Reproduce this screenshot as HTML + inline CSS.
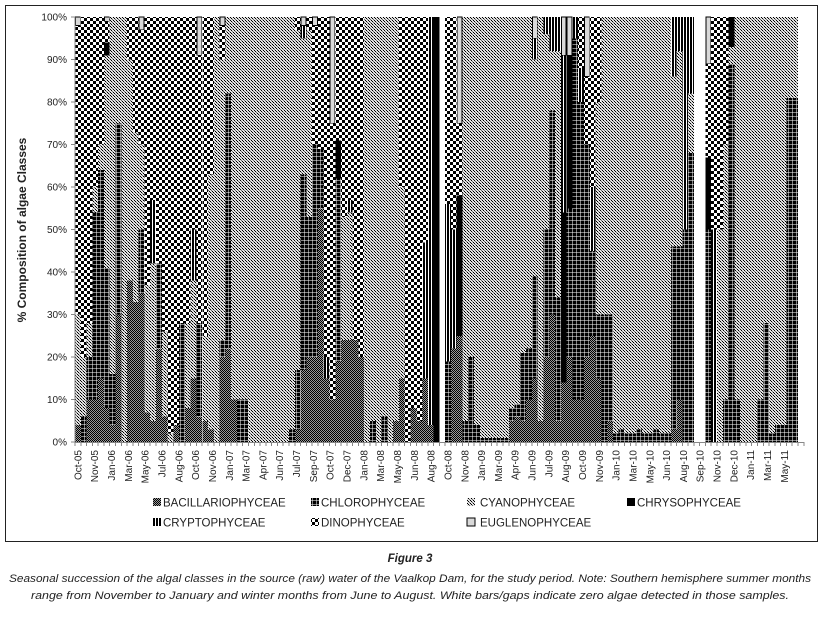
<!DOCTYPE html>
<html><head><meta charset="utf-8"><style>
body{margin:0;background:#fff;width:821px;height:620px;overflow:hidden}
svg{display:block}
text{font-family:"Liberation Sans",sans-serif}
</style></head><body>
<svg id="chart" width="821" height="620" shape-rendering="crispEdges">
<defs>
<pattern id="p-baci" width="2" height="2" patternUnits="userSpaceOnUse"><rect width="2" height="2" fill="#999"/><rect width="1" height="1" fill="#000"/><rect x="1" y="1" width="1" height="1" fill="#000"/></pattern>
<pattern id="p-chloro" width="4" height="4" patternUnits="userSpaceOnUse"><rect width="4" height="4" fill="#000"/><rect width="4" height="0.7" fill="#fff"/><rect width="0.7" height="4" fill="#fff"/></pattern>
<pattern id="p-cyano" width="3" height="3" patternUnits="userSpaceOnUse"><rect width="3" height="3" fill="#e2e2e2"/><rect width="1" height="1" fill="#000"/><rect x="1" y="1" width="1" height="1" fill="#666"/><rect x="2" y="2" width="1" height="1" fill="#000"/></pattern>
<pattern id="p-crypto" width="3" height="3" patternUnits="userSpaceOnUse"><rect width="3" height="3" fill="#fff"/><rect width="2" height="3" fill="#000"/></pattern>
<pattern id="p-dino" width="6" height="6" patternUnits="userSpaceOnUse"><rect width="6" height="6" fill="#fff"/><rect width="3" height="3" fill="#000"/><rect x="3" y="3" width="3" height="3" fill="#000"/></pattern>
</defs>
<rect x="5.5" y="5.5" width="812" height="536" fill="none" stroke="#222" stroke-width="1"/>
<g id="bars"></g>
<g id="axes"></g>
<text x="26" y="230" transform="rotate(-90 26 230)" text-anchor="middle" font-size="12" font-weight="bold" fill="#222">% Composition of algae Classes</text>
<g id="legend"></g>
<text x="410" y="562" text-anchor="middle" font-size="11.5" font-weight="bold" font-style="italic" fill="#222">Figure 3</text>
<text x="410" y="582" text-anchor="middle" font-size="11.3" font-style="italic" fill="#222" textLength="802" lengthAdjust="spacingAndGlyphs">Seasonal succession of the algal classes in the source (raw) water of the Vaalkop Dam, for the study period. Note: Southern hemisphere summer months</text>
<text x="410" y="599" text-anchor="middle" font-size="11.3" font-style="italic" fill="#222" textLength="758" lengthAdjust="spacingAndGlyphs">range from November to January and winter months from June to August. White bars/gaps indicate zero algae detected in those samples.</text>
</svg>
<script>
const baci=[4,0,10,10,15,8,4,30,0,38, 33,35,7,5,22,6,0,4,0,8, 15,6,5,3,0,20,22,10,0,0, 0,0,0,0,0,0,0,0,3,17, 20,20,55,15,10,19,24,24,24,20, 0,0,0,0,0,5,15,0,8,5, 15,4,0,0,0,22,25,0,0,0, 0,0,0,0,0,5,6,5,10,15, 5,20,30,5,14,20,10,10,20,25, 15,0,5,0,0,0,0,0,0,0, 0,0,0,3,10,0,0,0,0,0, 0,0,0,0,0,0,0,0,0,0, 0,0,0,0,0];
const chloro=[0,6,10,44,49,33,12,45,0,0, 0,15,0,0,20,0,0,0,28,0, 0,22,0,0,0,4,60,0,10,10, 0,0,0,0,0,0,0,3,14,46, 33,50,14,0,0,43,0,0,0,0, 0,5,0,6,0,0,0,0,0,0, 0,0,0,0,19,0,0,5,20,4, 1,1,1,1,1,3,3,16,12,24, 0,30,48,29,0,35,85,70,50,20, 15,30,25,2,3,2,2,3,2,2, 3,2,2,43,36,50,68,0,0,50, 0,0,10,89,10,0,0,0,10,28, 2,4,4,81,81];
const cyano=[26,14,8,6,6,50,84,25,100,52, 40,20,30,37,0,20,2,0,0,20, 23,0,20,60,100,66,18,90,90,90, 100,100,100,100,100,100,100,97,80,32, 44,0,0,0,0,0,29,30,0,0, 100,95,100,94,100,95,45,0,0,0, 0,0,0,0,0,0,0,95,80,96, 99,99,99,99,99,92,91,79,78,51, 95,46,14,58,0,0,0,0,0,0, 50,70,70,98,97,98,98,97,98,98, 97,98,98,40,46,0,14,0,0,0, 0,50,60,4,90,100,100,100,90,72, 98,96,96,19,19];
const chryso=[0,0,0,0,0,3,0,0,0,0, 0,0,0,0,0,0,0,0,0,0, 0,0,0,0,0,0,0,0,0,0, 0,0,0,0,0,0,0,0,0,0, 0,0,0,0,0,9,0,0,0,0, 0,0,0,0,0,0,0,0,0,0, 0,0,100,0,0,0,33,0,0,0, 0,0,0,0,0,0,0,0,0,0, 0,0,0,0,40,36,0,0,0,0, 0,0,0,0,0,0,0,0,0,0, 0,0,0,0,0,0,0,0,0,17, 0,0,0,7,0,0,0,0,0,0, 0,0,0,0,0];
const crypto=[0,0,0,0,0,0,0,0,0,0, 0,0,0,15,0,0,0,0,0,0, 12,0,0,0,0,0,0,0,0,0, 0,0,0,0,0,0,0,0,0,3, 0,0,0,5,0,0,0,3,0,0, 0,0,0,0,0,0,0,0,0,0, 32,96,0,0,37,28,0,0,0,0, 0,0,0,0,0,0,0,0,0,5, 0,4,8,8,37,0,5,8,0,15, 0,0,0,0,0,0,0,0,0,0, 0,0,0,14,8,50,18,0,0,0, 50,0,0,0,0,0,0,0,0,0, 0,0,0,0,0];
const dino=[68,80,72,40,30,5,0,0,0,10, 27,27,63,43,58,74,98,96,72,72, 50,63,75,37,0,8,0,0,0,0, 0,0,0,0,0,0,0,0,3,0, 3,28,31,80,65,29,47,43,76,80, 0,0,0,0,0,0,40,100,92,95, 53,0,0,0,44,50,17,0,0,0, 0,0,0,0,0,0,0,0,0,0, 0,0,0,0,0,0,0,12,16,40, 20,0,0,0,0,0,0,0,0,0, 0,0,0,0,0,0,0,0,0,22, 50,50,30,0,0,0,0,0,0,0, 0,0,0,0,0];
const eugl=[2,0,0,0,0,1,0,0,0,0, 0,3,0,0,0,0,0,0,0,0, 0,9,0,0,0,2,0,0,0,0, 0,0,0,0,0,0,0,0,0,2, 0,2,0,0,25,0,0,0,0,0, 0,0,0,0,0,0,0,0,0,0, 0,0,0,0,0,0,25,0,0,0, 0,0,0,0,0,0,0,0,0,5, 0,0,0,0,9,9,0,0,14,0, 0,0,0,0,0,0,0,0,0,0, 0,0,0,0,0,0,0,0,0,11, 0,0,0,0,0,0,0,0,0,0, 0,0,0,0,0];
const seriesNames=["BACILLARIOPHYCEAE","CHLOROPHYCEAE","CYANOPHYCEAE","CHRYSOPHYCEAE","CRYPTOPHYCEAE","DINOPHYCEAE","EUGLENOPHYCEAE"];
const xLabels=["Oct-05","Nov-05","Jan-06","Mar-06","May-06","Jul-06","Aug-06","Oct-06","Nov-06","Jan-07","Mar-07","Apr-07","Jun-07","Jul-07","Sep-07","Oct-07","Dec-07","Jan-08","Mar-08","May-08","Jun-08","Aug-08","Oct-08","Nov-08","Jan-09","Mar-09","Apr-09","Jun-09","Jul-09","Aug-09","Oct-09","Nov-09","Jan-10","Mar-10","May-10","Jun-10","Aug-10","Sep-10","Nov-10","Dec-10","Jan-11","Mar-11","May-11"];
const yTicks=[0,10,20,30,40,50,60,70,80,90,100];

const NS="http://www.w3.org/2000/svg";
const series=[baci,chloro,cyano,chryso,crypto,dino,eugl];
const fills=["url(#p-baci)","url(#p-chloro)","url(#p-cyano)","#000","url(#p-crypto)","url(#p-dino)","#d9d9d9"];
const X0=75,X1=798,Y0=442,Y1=17;
const N=baci.length, bw=(X1-X0)/N;
const xs=i=>X0+i*bw;
const ys=v=>Y0-(Y0-Y1)*v/100;
function mk(tag,attrs,parent){const e=document.createElementNS(NS,tag);for(const k in attrs)e.setAttribute(k,attrs[k]);parent.appendChild(e);return e;}
const gb=document.getElementById('bars');
for(let i=0;i<N;i++){
  let cum=0;
  for(let s=0;s<series.length;s++){
    const v=series[s][i]; if(!v) continue;
    const lo=Math.min(cum,100), hi=Math.min(cum+v,100); cum+=v;
    if(hi<=lo) continue;
    const r=mk('rect',{x:xs(i).toFixed(2),y:ys(hi).toFixed(2),width:bw.toFixed(2),height:(ys(lo)-ys(hi)).toFixed(2),fill:fills[s]},gb);
    if(s===6){r.setAttribute('stroke','#000');r.setAttribute('stroke-width','0.8');r.setAttribute('x',(xs(i)+0.5).toFixed(2));r.setAttribute('width',(bw-1).toFixed(2));}
    
    
  }
}
const ga=document.getElementById('axes');
const yl=mk('line',{x1:X0,y1:Y1,x2:X0,y2:Y0,stroke:'#888'},ga);


const xl=mk('line',{x1:X0,y1:Y0+0.5,x2:X1+6,y2:Y0+0.5,stroke:'#888'},ga);


yTicks.forEach(t=>{
  const tk=mk('line',{x1:X0-4,y1:ys(t),x2:X0,y2:ys(t),stroke:'#888'},ga);
  
  
  const tx=mk('text',{x:X0-8,y:ys(t)+3.5,'text-anchor':'end','font-size':'10',fill:'#222'},ga);
  tx.textContent=t+'%';
  
  
});
for(let i=0;i<=N+1;i++){
  const tk=mk('line',{x1:xs(i),y1:Y0,x2:xs(i),y2:Y0+4,stroke:'#888'},ga);
  
  
}
const step=(N-1)/(xLabels.length-1)*0.985;
xLabels.forEach((l,k)=>{
  const cx=xs(k*step)+bw/2+3.5, cy=Y0+8;
  const tx=mk('text',{x:cx,y:cy,transform:`rotate(-90 ${cx} ${cy})`,'text-anchor':'end','font-size':'10',fill:'#222'},ga);
  tx.textContent=l;
  
  
});
const gl=document.getElementById('legend');
const legPos=[[153,502],[311,502],[467,502],[627,502],[153,522],[311,522],[467,522]];
seriesNames.forEach((n,s)=>{
  const [lx,ly]=legPos[s];
  const g=mk('g',{},gl);
  
  
  const sw=mk('rect',{x:lx,y:ly-4,width:8,height:8,fill:fills[s],stroke:s===6?'#000':'none'},g);
  
  
  const t=mk('text',{x:lx+(s===2||s===6?13:10),y:ly+4.5,'font-size':'11.5',fill:'#222'},g);
  t.textContent=n;
  
  
});
</script>
</body></html>
